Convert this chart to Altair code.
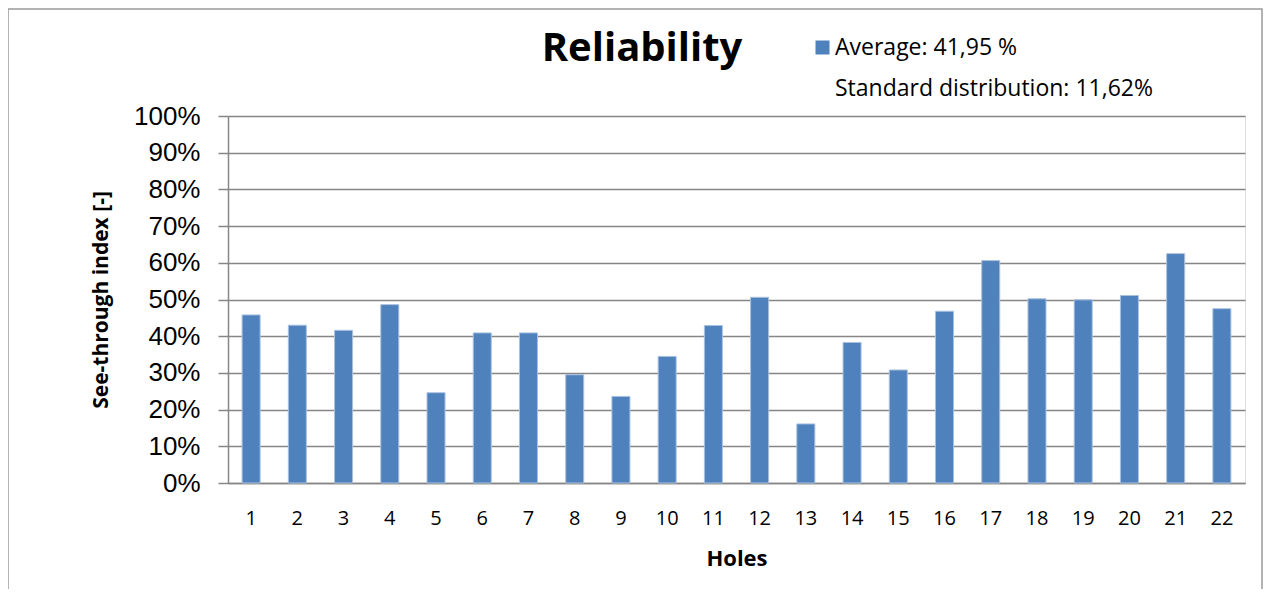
import altair as alt
import pandas as pd

holes = [str(i) for i in range(1, 23)]
values = [45.8, 43.0, 41.6, 48.6, 24.6, 40.9, 40.9, 29.5, 23.6, 34.5, 42.9,
          50.6, 16.1, 38.3, 30.8, 46.8, 60.6, 50.2, 49.9, 51.1, 62.5, 47.5]
avg_label = "Average: 41,95 %"
std_label = "Standard distribution: 11,62%"
title_text = "Reliability"

df = pd.DataFrame({
    "hole": holes,
    "value": [v / 100 for v in values],
    "series": [avg_label] * len(holes),
})
one = pd.DataFrame({"t": [title_text]})

BLUE = "#4F81BD"
GRID = "#868686"
LBL = "Open Sans"

W, H = 1017, 367
PAD_L, PAD_T = 220, 108

border = alt.Chart(one).mark_rect(filled=False, stroke="#9A9A9A", strokeWidth=1.5).encode(
    x=alt.value(-220), x2=alt.value(1034), y=alt.value(-107), y2=alt.value(620)
)

title = alt.Chart(one).mark_text(font=LBL, fontSize=40, fontWeight="bold", color="#000000",
                                 align="center", baseline="alphabetic").encode(
    text="t:N", x=alt.value(414), y=alt.value(-55)
)

bars = alt.Chart(df).mark_bar(color=BLUE, stroke="#A9C1DF", strokeWidth=1).encode(
    x=alt.X("hole:O", sort=holes,
            scale=alt.Scale(paddingInner=0.61, paddingOuter=0.305),
            axis=alt.Axis(title="Holes", labelAngle=0, labelFont=LBL, labelFontSize=20,
                          labelColor="#000000", labelPadding=25, ticks=False,
                          domainColor=GRID, domainWidth=1.5,
                          titleFont=LBL, titleFontSize=22, titleFontWeight="bold",
                          titleColor="#000000", titlePadding=20)),
    y=alt.Y("value:Q", scale=alt.Scale(domain=[0, 1]),
            axis=alt.Axis(title="See-through index [-]", format=".0%",
                          values=[i / 10 for i in range(11)],
                          labelFont="Liberation Sans", labelFontSize=26,
                          labelColor="#000000", labelPadding=18,
                          tickSize=10, tickColor=GRID, tickWidth=1.5,
                          domainColor=GRID, domainWidth=1.5,
                          grid=True, gridColor=GRID, gridWidth=1.5,
                          titleFont=LBL, titleFontSize=21, titleFontWeight="bold",
                          titleColor="#000000", titlePadding=22)),
    color=alt.Color("series:N",
                    scale=alt.Scale(domain=[avg_label, std_label], range=[BLUE, "#ffffff"]),
                    legend=alt.Legend(title=None, orient="none", legendX=583, legendY=-80,
                                      symbolType="square", symbolSize=196,
                                      symbolStrokeWidth=0, labelFont=LBL,
                                      labelFontSize=23, labelColor="#000000",
                                      labelOffset=1, rowPadding=17, labelLimit=0)),
)

chart = alt.layer(border, bars, title).properties(
    width=W, height=H,
    padding={"left": PAD_L, "top": PAD_T, "right": 18, "bottom": 106},
    autosize=alt.AutoSizeParams(type="none"),
).configure_view(stroke=None).configure(background="#ffffff")

chart.save("out.html", embed_options={"renderer": "svg", "actions": False})
